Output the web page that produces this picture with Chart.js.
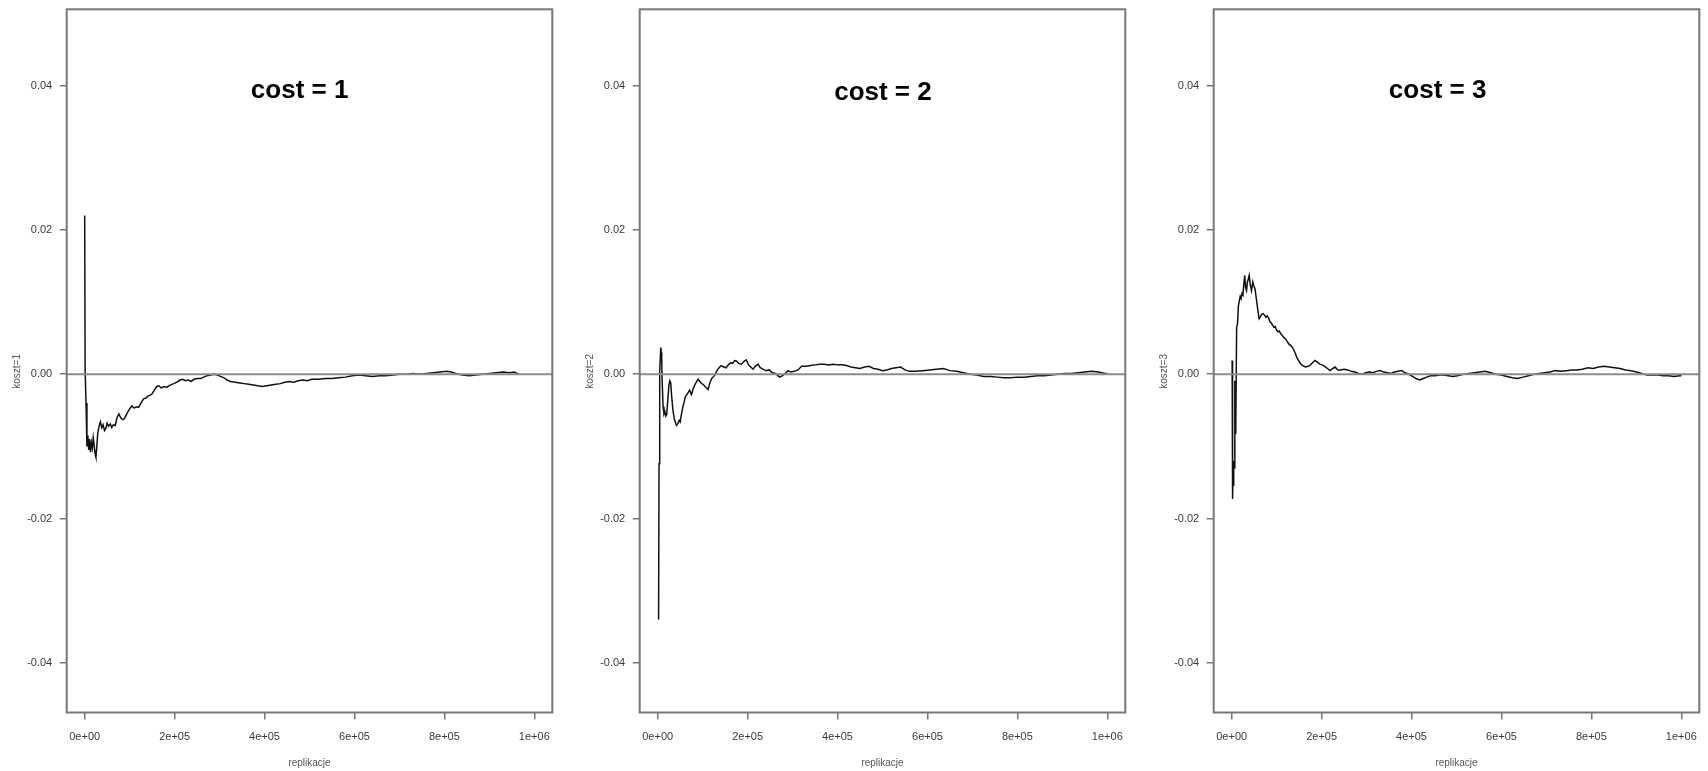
<!DOCTYPE html>
<html>
<head>
<meta charset="utf-8">
<script src="https://cdn.jsdelivr.net/npm/chart.js@4.4.1/dist/chart.umd.min.js"></script>
<style>
    html, body { margin: 0; padding: 0; background: #fff; overflow: hidden; }
    body { width: 1708px; height: 771px; position: relative; }
    .panel { position: absolute; top: 0; width: 562px; height: 771px; }
</style>
</head>
<body>
<div class="panel" id="p1"><canvas id="c1" width="562" height="771"></canvas></div>
<div class="panel" id="p2"><canvas id="c2" width="562" height="771"></canvas></div>
<div class="panel" id="p3"><canvas id="c3" width="562" height="771"></canvas></div>

<script>
// --- dane (replikacje w tysiącach) ---
const xTicks = [0, 200, 400, 600, 800, 1000];
const xTickLabels = ['0e+00', '2e+05', '4e+05', '6e+05', '8e+05', '1e+06'];
const yTicks = [-0.04, -0.02, 0, 0.02, 0.04];
const yTickLabels = ['-0.04', '-0.02', '0.00', '0.02', '0.04'];

const titles = ['cost = 1', 'cost = 2', 'cost = 3'];
const yLabels = ['koszt=1', 'koszt=2', 'koszt=3'];
const xLabel = 'replikacje';

const rep1 = [0, 1, 3, 5, 7, 9, 11, 13, 15, 17, 19, 21, 23, 25, 27, 29, 32, 35, 38, 41, 44, 47, 50, 53, 57, 60, 64, 68, 72, 76, 80, 84, 88, 92, 96, 100, 105, 110, 115, 120, 125, 131, 136, 141, 146, 150, 155, 160, 165, 170, 176, 183, 190, 198, 205, 212, 218, 224, 230, 237, 243, 250, 258, 265, 272, 280, 288, 295, 302, 310, 317, 324, 335, 345, 355, 365, 375, 385, 395, 405, 415, 425, 435, 445, 455, 465, 475, 485, 495, 505, 520, 535, 550, 565, 580, 595, 610, 625, 640, 655, 670, 685, 700, 715, 730, 745, 760, 775, 790, 805, 815, 825, 840, 855, 870, 885, 900, 915, 930, 945, 955, 965];
const koszt1 = [0.0220, 0.0005, -0.0040, -0.0100, -0.0085, -0.0105, -0.0090, -0.0108, -0.0095, -0.0102, -0.0088, -0.0098, -0.0110, -0.0115, -0.0100, -0.0082, -0.0072, -0.0066, -0.0074, -0.0070, -0.0078, -0.0075, -0.0068, -0.0072, -0.0069, -0.0074, -0.0070, -0.0071, -0.0060, -0.0055, -0.0060, -0.0063, -0.0062, -0.0057, -0.0052, -0.0048, -0.0044, -0.0047, -0.0045, -0.0046, -0.0040, -0.0034, -0.0033, -0.0030, -0.0029, -0.0027, -0.0022, -0.0017, -0.0016, -0.0019, -0.0017, -0.0018, -0.0015, -0.0013, -0.0011, -0.0008, -0.0007, -0.0009, -0.0008, -0.0010, -0.0007, -0.0006, -0.0006, -0.0004, -0.0002, -0.0001, 0.0000, -0.0001, -0.0003, -0.0005, -0.0008, -0.0010, -0.0011, -0.0012, -0.0013, -0.0014, -0.0015, -0.0016, -0.0017, -0.0016, -0.0015, -0.0014, -0.0013, -0.0011, -0.0010, -0.0011, -0.0009, -0.0008, -0.0009, -0.0007, -0.0007, -0.0006, -0.0006, -0.0005, -0.0004, -0.0002, -0.0001, -0.0002, -0.0003, -0.0002, -0.0002, -0.0001, 0.0000, 0.0000, 0.0001, 0.0000, 0.0001, 0.0002, 0.0003, 0.0004, 0.0003, 0.0001, -0.0001, -0.0002, -0.0001, 0.0000, 0.0001, 0.0002, 0.0003, 0.0002, 0.0003, 0.0000];

const rep2 = [2, 3, 4, 5, 7, 8, 9, 10, 12, 14, 16, 18, 20, 22, 25, 27, 29, 31, 34, 37, 40, 42, 45, 48, 50, 53, 56, 59, 61, 64, 68, 71, 75, 79, 83, 87, 90, 94, 98, 101, 105, 109, 112, 116, 120, 126, 130, 135, 141, 147, 152, 157, 163, 167, 171, 176, 180, 186, 192, 197, 202, 207, 212, 217, 223, 228, 234, 241, 248, 255, 262, 271, 278, 285, 290, 296, 304, 312, 320, 330, 340, 350, 360, 370, 380, 390, 400, 410, 420, 430, 440, 450, 460, 470, 480, 490, 500, 510, 520, 530, 540, 550, 560, 575, 590, 605, 620, 635, 650, 665, 680, 695, 710, 725, 740, 755, 770, 785, 800, 815, 830, 845, 860, 875, 890, 905, 920, 935, 950, 965, 980, 995, 1000];
const koszt2 = [-0.0340, -0.0124, -0.0013, 0.0005, 0.0037, 0.0030, 0.0019, -0.0010, -0.0045, -0.0055, -0.0052, -0.0058, -0.0056, -0.0040, -0.0015, -0.0009, -0.0012, -0.0030, -0.0050, -0.0062, -0.0068, -0.0071, -0.0068, -0.0064, -0.0066, -0.0055, -0.0045, -0.0038, -0.0032, -0.0029, -0.0025, -0.0022, -0.0028, -0.0020, -0.0014, -0.0010, -0.0007, -0.0010, -0.0013, -0.0014, -0.0017, -0.0019, -0.0021, -0.0012, -0.0006, -0.0002, 0.0003, 0.0008, 0.0012, 0.0010, 0.0009, 0.0013, 0.0016, 0.0015, 0.0019, 0.0018, 0.0015, 0.0014, 0.0018, 0.0020, 0.0013, 0.0010, 0.0007, 0.0011, 0.0014, 0.0009, 0.0007, 0.0005, 0.0006, 0.0002, 0.0001, -0.0004, -0.0002, 0.0002, 0.0005, 0.0003, 0.0004, 0.0006, 0.0011, 0.0011, 0.0012, 0.0013, 0.0014, 0.0014, 0.0013, 0.0014, 0.0013, 0.0013, 0.0012, 0.0010, 0.0009, 0.0008, 0.0010, 0.0011, 0.0008, 0.0007, 0.0005, 0.0006, 0.0008, 0.0009, 0.0010, 0.0006, 0.0004, 0.0004, 0.0005, 0.0006, 0.0007, 0.0008, 0.0005, 0.0004, 0.0002, 0.0000, -0.0001, -0.0003, -0.0003, -0.0004, -0.0005, -0.0005, -0.0004, -0.0004, -0.0003, -0.0002, -0.0002, -0.0001, 0.0000, 0.0001, 0.0001, 0.0002, 0.0003, 0.0004, 0.0003, 0.0001, 0.0001];

const rep3 = [1, 2, 3, 4, 5, 6, 7, 9, 11, 13, 15, 17, 19, 21, 23, 25, 27, 29, 31, 33, 35, 37, 39, 41, 44, 47, 49, 52, 55, 58, 61, 64, 67, 70, 73, 76, 79, 82, 85, 88, 91, 94, 97, 100, 103, 106, 109, 112, 116, 120, 124, 127, 131, 135, 138, 142, 145, 149, 153, 158, 164, 170, 175, 180, 185, 190, 196, 201, 207, 213, 219, 225, 230, 236, 242, 250, 258, 266, 274, 282, 290, 298, 306, 314, 322, 330, 338, 346, 354, 362, 370, 378, 386, 394, 402, 410, 418, 426, 434, 442, 452, 462, 472, 482, 492, 502, 515, 528, 540, 552, 564, 576, 588, 600, 612, 624, 636, 648, 660, 672, 684, 696, 708, 720, 732, 744, 756, 768, 780, 792, 804, 816, 828, 840, 852, 864, 876, 888, 900, 912, 924, 936, 948, 960, 972, 984, 996, 1000];
const koszt3 = [0.0019, -0.0173, -0.0140, -0.0155, -0.0120, -0.0130, -0.0009, -0.0083, 0.0065, 0.0070, 0.0095, 0.0102, 0.0108, 0.0105, 0.0112, 0.0110, 0.0125, 0.0137, 0.0120, 0.0116, 0.0128, 0.0132, 0.0137, 0.0125, 0.0116, 0.0128, 0.0123, 0.0118, 0.0104, 0.0090, 0.0077, 0.0080, 0.0083, 0.0084, 0.0082, 0.0079, 0.0081, 0.0078, 0.0073, 0.0071, 0.0068, 0.0065, 0.0066, 0.0061, 0.0059, 0.0060, 0.0056, 0.0054, 0.0051, 0.0049, 0.0045, 0.0042, 0.0040, 0.0037, 0.0034, 0.0028, 0.0023, 0.0019, 0.0015, 0.0012, 0.0010, 0.0011, 0.0013, 0.0016, 0.0019, 0.0017, 0.0014, 0.0013, 0.0011, 0.0008, 0.0005, 0.0008, 0.0010, 0.0006, 0.0006, 0.0007, 0.0006, 0.0004, 0.0003, 0.0001, 0.0000, 0.0002, 0.0003, 0.0002, 0.0004, 0.0005, 0.0003, 0.0002, 0.0001, 0.0003, 0.0004, 0.0005, 0.0002, 0.0000, -0.0003, -0.0006, -0.0008, -0.0006, -0.0004, -0.0002, -0.0002, -0.0001, -0.0001, -0.0002, -0.0003, -0.0002, 0.0000, 0.0001, 0.0002, 0.0003, 0.0004, 0.0002, 0.0000, -0.0001, -0.0003, -0.0005, -0.0006, -0.0004, -0.0002, 0.0000, 0.0001, 0.0002, 0.0003, 0.0005, 0.0004, 0.0005, 0.0006, 0.0006, 0.0007, 0.0009, 0.0008, 0.0010, 0.0011, 0.0010, 0.0009, 0.0008, 0.0006, 0.0005, 0.0003, 0.0001, -0.0001, -0.0001, -0.0001, -0.0002, -0.0002, -0.0003, -0.0002, -0.0002];

// --- układ ---
const X_MIN = -40, X_MAX = 1040;
const Y_MIN = -0.0469, Y_MAX = 0.0506;
const panelLeft = [0, 573.3, 1146.6];
// środek napisu "cost = n" w jednostkach osi
const titlePos = [{ x: 478, y: 0.0393 }, { x: 501, y: 0.0390 }, { x: 458, y: 0.0393 }];
// opis osi y: odległość od lewej krawędzi i wysokość (w jednostkach osi)
const yLabelX = 17, yLabelAt = 0.0004;

const FONT = '"Liberation Sans", Arial, sans-serif';
const AXIS_GREY = '#777';

// ramka wokół obszaru wykresu (box() w R)
const frameBox = {
    id: 'frameBox',
    afterDatasetsDraw(chart) {
        const { ctx, chartArea: a } = chart;
        ctx.save();
        ctx.strokeStyle = AXIS_GREY;
        ctx.lineWidth = 2;
        ctx.strokeRect(a.left, a.top, a.right - a.left, a.bottom - a.top);
        ctx.restore();
    }
};

// napis "cost = n" wewnątrz wykresu + opis osi y
const panelText = {
    id: 'panelText',
    afterDatasetsDraw(chart, args, opts) {
        const { ctx, scales: { x, y } } = chart;
        ctx.save();
        ctx.font = 'bold 26px ' + FONT;
        ctx.fillStyle = '#000';
        ctx.textAlign = 'center';
        ctx.textBaseline = 'middle';
        ctx.fillText(opts.text, x.getPixelForValue(opts.x), y.getPixelForValue(opts.y));

        ctx.translate(y.left + yLabelX, y.getPixelForValue(yLabelAt));
        ctx.rotate(-Math.PI / 2);
        ctx.font = '10px ' + FONT;
        ctx.fillStyle = '#555';
        ctx.fillText(opts.ylab, 0, 0);
        ctx.restore();
    }
};

function drawPanel(i, reps, values) {
    document.getElementById('p' + (i + 1)).style.left = panelLeft[i] + 'px';
    const ctx = document.getElementById('c' + (i + 1));

    const series = reps.map((r, k) => ({ x: r, y: values[k] }));
    const zeroLine = [{ x: X_MIN, y: 0 }, { x: X_MAX, y: 0 }];

    new Chart(ctx, {
        type: 'line',
        data: {
            datasets: [
                { data: zeroLine, borderColor: '#8c8c8c', borderWidth: 2, pointRadius: 0 },
                { data: series, borderColor: '#111', borderWidth: 1.5, pointRadius: 0, tension: 0 }
            ]
        },
        options: {
            responsive: false,
            animation: false,
            devicePixelRatio: 1,
            layout: { padding: { top: 9.3, right: 9.7, bottom: 0, left: 0 } },
            plugins: {
                legend: { display: false },
                tooltip: { enabled: false },
                panelText: { text: titles[i], x: titlePos[i].x, y: titlePos[i].y, ylab: yLabels[i] }
            },
            scales: {
                x: {
                    type: 'linear',
                    min: X_MIN,
                    max: X_MAX,
                    afterBuildTicks: s => { s.ticks = xTicks.map(v => ({ value: v })); },
                    afterFit: s => { s.height = 58.5; s.paddingLeft = 0; s.paddingRight = 0; },
                    grid: { drawOnChartArea: false, drawTicks: true, tickLength: 7, color: AXIS_GREY, lineWidth: 1.5 },
                    border: { display: false },
                    ticks: {
                        padding: 11,
                        maxRotation: 0,
                        autoSkip: false,
                        color: '#3a3a3a',
                        font: { family: FONT, size: 11 },
                        callback: (v, idx) => xTickLabels[idx]
                    },
                    title: {
                        display: true,
                        text: xLabel,
                        color: '#555',
                        font: { family: FONT, size: 10 },
                        padding: { top: 0, bottom: 2 }
                    }
                },
                y: {
                    type: 'linear',
                    min: Y_MIN,
                    max: Y_MAX,
                    afterBuildTicks: s => { s.ticks = yTicks.map(v => ({ value: v })); },
                    afterFit: s => { s.width = 66.7; s.paddingTop = 0; s.paddingBottom = 0; },
                    grid: { drawOnChartArea: false, drawTicks: true, tickLength: 7, color: AXIS_GREY, lineWidth: 1.5 },
                    border: { display: false },
                    ticks: {
                        padding: 7.5,
                        autoSkip: false,
                        color: '#3a3a3a',
                        font: { family: FONT, size: 11 },
                        callback: (v, idx) => yTickLabels[idx]
                    },
                    title: { display: false }
                }
            }
        },
        plugins: [frameBox, panelText]
    });
}

drawPanel(0, rep1, koszt1);
drawPanel(1, rep2, koszt2);
drawPanel(2, rep3, koszt3);
</script>
</body>
</html>
